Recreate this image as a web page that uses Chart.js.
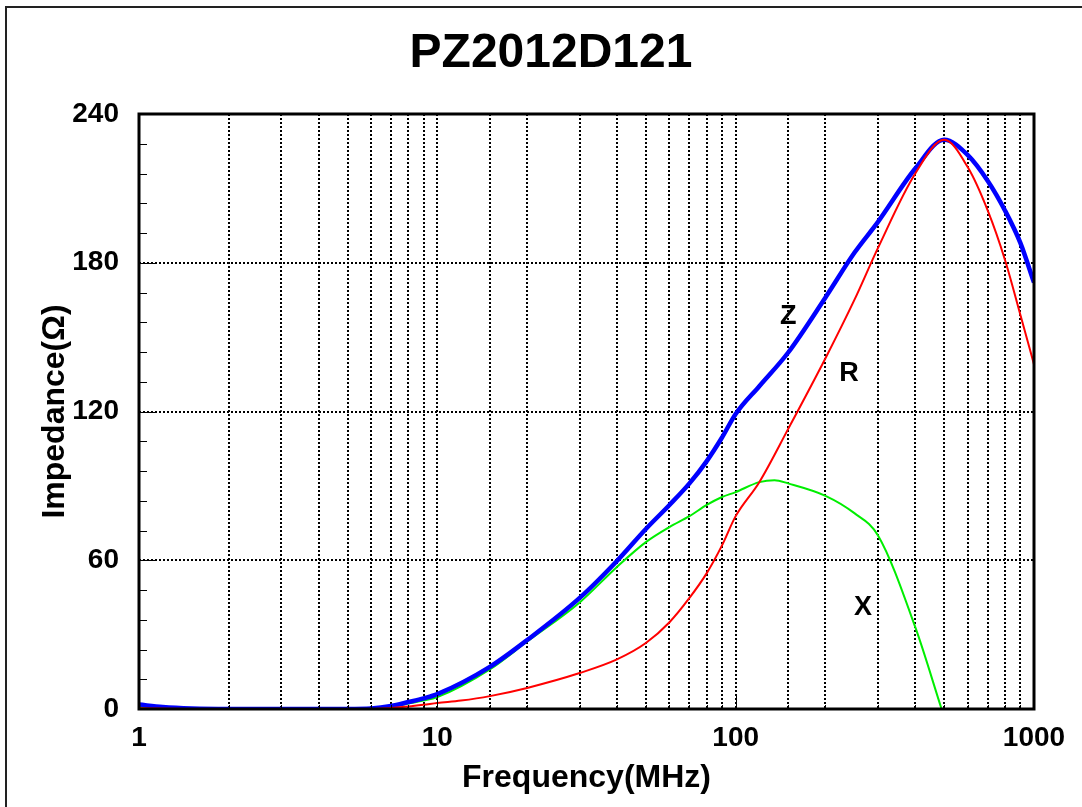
<!DOCTYPE html>
<html><head><meta charset="utf-8">
<script src="https://cdn.jsdelivr.net/npm/chart.js@4"></script>
<style>html,body{margin:0;padding:0;background:#fff;}canvas{display:block;}</style>
</head><body>
<canvas id="c" width="1082" height="807"></canvas>
<script>
const titleText = 'PZ2012D121';
const xTitle = 'Frequency(MHz)';
const yTitle = 'Impedance(Ω)';
const xTickLabels = [1, 10, 100, 1000];
const yTickLabels = [0, 60, 120, 180, 240];

const zFreq = [1, 1.2, 1.5, 2, 3, 4, 5, 6, 7, 8, 9, 10, 15, 20, 30, 40, 50, 60, 70, 80, 90, 100, 120, 150, 200, 250, 300, 400, 500, 600, 700, 800, 900, 1000];
const zVals = [1.8, 0.8, 0.2, 0, 0, 0, 0, 0.2, 1.2, 2.8, 4.3, 6, 17, 27.8, 44.8, 59.7, 72.6, 82.3, 91, 100, 109.5, 119, 130.2, 143.8, 166, 184, 196.5, 218, 229.6, 223.4, 213, 201, 188, 172];

const rFreq = [1, 1.5, 2, 3, 4, 5, 6, 7, 8, 9, 10, 12, 15, 20, 30, 40, 50, 60, 70, 80, 90, 100, 120, 150, 200, 250, 300, 400, 500, 600, 700, 800, 900, 1000];
const rVals = [0.3, 0, 0, 0, 0, 0, 0, 0.4, 1, 1.7, 2.4, 3.4, 5.2, 8.5, 14.5, 20, 26.6, 35, 44.8, 54.8, 66, 77.8, 91.5, 113, 141.5, 165, 186, 216, 229.6, 218.5, 201, 181, 159, 139];

const xFreq = [1, 1.2, 1.5, 2, 3, 4, 5, 6, 7, 8, 9, 10, 15, 20, 30, 40, 50, 60, 70, 80, 90, 100, 120, 135, 150, 200, 250, 300, 400, 490];
const xVals = [0.9, 0.4, 0, 0, 0, 0, 0, 0.1, 0.8, 2.2, 3.4, 4.8, 16, 27.2, 43, 57.3, 67.3, 73.4, 77.8, 82.3, 85.5, 87.5, 91.5, 92.3, 91, 86, 79, 70, 33, 0];

const curveLabels = ['Z', 'R', 'X'];
const curveLabelFreq = [150, 240, 267];
const curveLabelVal = [158.5, 135.5, 41];

const FONT = "'Liberation Sans', Arial, Helvetica, sans-serif";
const pts = (f, v) => f.map((q, i) => ({x: q, y: v[i]}));
const isDecade = v => Math.abs(Math.log10(v) - Math.round(Math.log10(v))) < 1e-9;
const isMajorY = v => Math.abs(v / 60 - Math.round(v / 60)) < 1e-6;

const deco = {
  id: 'deco',
  beforeDraw(chart) {
    const c = chart.ctx; c.save(); c.fillStyle = '#fff'; c.fillRect(0, 0, chart.width, chart.height); c.restore();
  },
  afterDatasetsDraw(chart) {
    const {ctx, chartArea: a} = chart;
    const x = chart.scales.x, y = chart.scales.y;
    ctx.save();
    ctx.strokeStyle = '#000';
    ctx.lineWidth = 1;
    for (let v = 0; v <= 240; v += 12) {
      const py = Math.round(y.getPixelForValue(v)) + 0.5;
      const len = isMajorY(v) ? 16 : 8;
      ctx.beginPath(); ctx.moveTo(a.left, py); ctx.lineTo(a.left + len, py); ctx.stroke();
    }
    x.ticks.forEach(t => {
      const px = Math.round(x.getPixelForValue(t.value)) + 0.5;
      const len = isDecade(t.value) ? 14 : 4;
      ctx.beginPath(); ctx.moveTo(px, a.bottom); ctx.lineTo(px, a.bottom - len); ctx.stroke();
    });
    ctx.lineWidth = 3;
    ctx.strokeRect(a.left, a.top, a.right - a.left, a.bottom - a.top);
    ctx.fillStyle = '#000';
    ctx.font = 'bold 27px ' + FONT;
    ctx.textAlign = 'center'; ctx.textBaseline = 'middle';
    curveLabels.forEach((s, i) => ctx.fillText(s, x.getPixelForValue(curveLabelFreq[i]), y.getPixelForValue(curveLabelVal[i])));
    ctx.lineWidth = 2;
    ctx.strokeStyle = '#222';
    ctx.beginPath(); ctx.moveTo(6, chart.height); ctx.lineTo(6, 7); ctx.lineTo(chart.width, 7); ctx.stroke();
    ctx.restore();
  }
};

new Chart(document.getElementById('c'), {
  type: 'line',
  data: {
    datasets: [
      {label: 'R', data: pts(rFreq, rVals), borderColor: '#ff0000', borderWidth: 2, yAxisID: 'y', xAxisID: 'x'},
      {label: 'Z', data: pts(zFreq, zVals), borderColor: '#0000ff', borderWidth: 4.5, yAxisID: 'y', xAxisID: 'x'},
      {label: 'X', data: pts(xFreq, xVals), borderColor: '#00ee00', borderWidth: 2, yAxisID: 'y', xAxisID: 'x'}
    ]
  },
  options: {
    responsive: false,
    animation: false,
    devicePixelRatio: 1,
    layout: {padding: {left: 20, right: 0, top: 0, bottom: 0}},
    elements: {point: {radius: 0}, line: {cubicInterpolationMode: 'monotone', fill: false}},
    plugins: {
      legend: {display: false},
      tooltip: {enabled: false},
      title: {display: true, text: titleText, color: '#000', font: {family: FONT, size: 48, weight: 'bold'}, padding: {top: 25, bottom: 31.4}}
    },
    scales: {
      x: {
        type: 'logarithmic', min: 1, max: 1000, position: 'bottom',
        afterFit(s) { s.height = 98; },
        grid: {color: '#000', lineWidth: 2, drawTicks: false},
        border: {display: false, dash: [2, 2]},
        ticks: {autoSkip: false, maxRotation: 0, padding: 12, color: '#000', font: {family: FONT, size: 28, weight: 'bold'},
          callback: v => (xTickLabels.some(t => Math.abs(t - v) < 1e-9) ? String(v) : '')},
        title: {display: true, text: xTitle, color: '#000', font: {family: FONT, size: 32, weight: 'bold'}, padding: {top: 0, bottom: 10}}
      },
      y: {
        type: 'linear', min: 0, max: 240, position: 'left',
        afterFit(s) { s.width = 119; },
        grid: {color: c => (c.tick && isMajorY(c.tick.value) ? '#000' : 'rgba(0,0,0,0)'), lineWidth: 2, drawTicks: false},
        border: {display: false, dash: [2, 2]},
        ticks: {stepSize: 12, autoSkip: false, padding: 20, color: '#000', font: {family: FONT, size: 28, weight: 'bold'},
          callback: v => { const t = yTickLabels.find(q => Math.abs(q - v) < 1e-6); return t === undefined ? '' : String(t); }},
        title: {display: true, text: yTitle, color: '#000', font: {family: FONT, size: 32, weight: 'bold'}, padding: {top: 16, bottom: 0}}
      },
      y2: {
        type: 'linear', min: 0, max: 1, position: 'right', display: true,
        afterFit(s) { s.width = 48; },
        grid: {display: false, drawTicks: false},
        border: {display: false},
        ticks: {display: false}
      }
    }
  },
  plugins: [deco]
});
</script>
</body></html>
